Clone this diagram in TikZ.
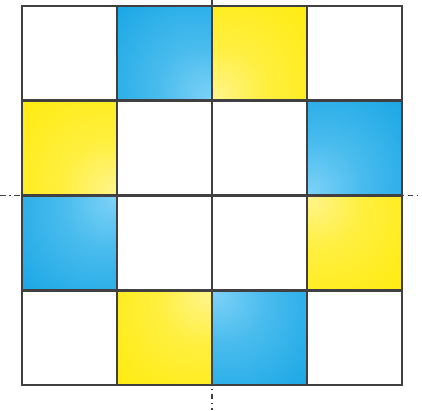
\documentclass[tikz,border=0pt]{standalone}
\usepackage{tikz}

\definecolor{bluedark}{RGB}{10,160,226}
\definecolor{bluelight}{RGB}{125,210,247}
\definecolor{yellowdark}{RGB}{255,234,0}
\definecolor{yellowlight}{RGB}{255,245,140}
\definecolor{gridgray}{RGB}{64,64,66}

\pgfdeclareradialshading{blueglow}{\pgfpoint{24bp}{-24bp}}{color(0bp)=(bluelight); color(22bp)=(bluelight!55!bluedark); color(62bp)=(bluedark); color(100bp)=(bluedark)}
\pgfdeclareradialshading{yellowglow}{\pgfpoint{24bp}{-24bp}}{color(0bp)=(yellowlight); color(22bp)=(yellowlight!45!yellowdark); color(62bp)=(yellowdark); color(100bp)=(yellowdark)}

\begin{document}
\begin{tikzpicture}[x=0.025cm,y=-0.025cm,
  gridline/.style={line width=1.9pt,gridgray,line cap=rect},
  axisline/.style={line width=0.9pt,gridgray,dash pattern=on 4pt off 2.5pt on 1pt off 2.5pt}]
\useasboundingbox (0,0) rectangle (422,410);
% axes
\draw[axisline] (212,0) -- (212,410);
\draw[axisline] (0,195.5) -- (422,195.5);
% coloured cells, glow towards the centre
\foreach \col/\row/\glow/\ang in {1/0/blueglow/0, 2/0/yellowglow/270,
    0/1/yellowglow/0, 3/1/blueglow/270, 0/2/blueglow/90, 3/2/yellowglow/180,
    1/3/yellowglow/90, 2/3/blueglow/180}
  \shade[shading=\glow, shading angle=\ang] (22+95*\col,6+94.75*\row) rectangle ++(95,94.75);
% grid
\foreach \i in {0,...,4} {
  \draw[gridline] (22+95*\i,6) -- (22+95*\i,385);
  \draw[gridline] (22,6+94.75*\i) -- (402,6+94.75*\i);
}
\end{tikzpicture}
\end{document}
